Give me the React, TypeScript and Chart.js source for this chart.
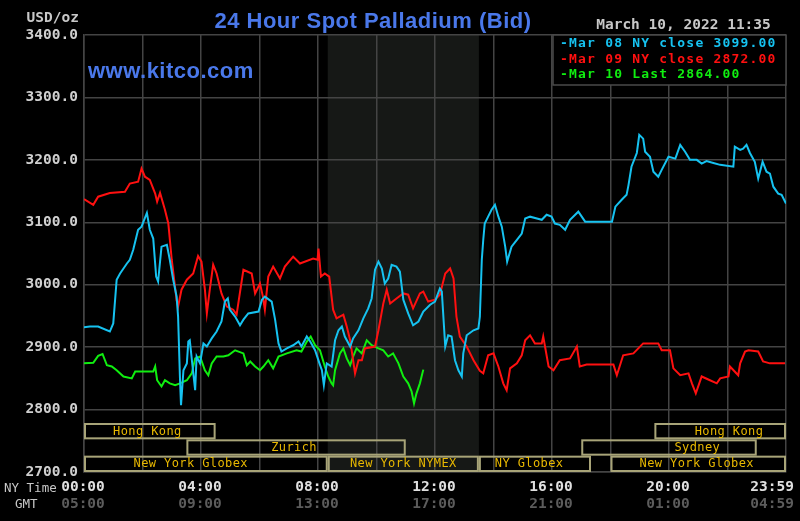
import React, { useEffect, useRef } from "react";
import { Chart, registerables } from "chart.js";

Chart.register(...registerables);

// ---------- DATA (times in minutes after 00:00 NY time) ----------
const cyanTimes = [0,12,29,53,60,67,74,88,94,101,111,118,129,135,142,148,152,159,170,176,183,190,193,197,199,204,211,214,217,222,228,231,238,245,252,262,272,282,289,295,299,310,320,327,337,358,365,371,385,392,399,405,416,429,440,446,457,464,474,483,488,492,498,508,515,522,529,535,546,552,563,573,583,590,597,604,611,617,624,631,641,648,655,665,675,686,696,710,720,730,734,741,747,754,761,768,775,778,785,799,809,812,816,819,822,829,836,843,850,857,864,868,877,888,898,905,915,929,939,949,959,966,976,987,997,1014,1028,1083,1090,1103,1113,1117,1123,1134,1139,1147,1151,1161,1168,1178,1185,1199,1213,1223,1233,1243,1257,1267,1277,1291,1305,1332,1335,1346,1352,1359,1366,1376,1383,1392,1400,1407,1414,1424,1431,1440];
const cyanValues = [2932,2933,2933,2925,2938,3008,3018,3034,3040,3056,3088,3093,3115,3088,3074,3013,3005,3061,3064,3040,3008,2981,2949,2847,2807,2863,2874,2909,2911,2874,2831,2885,2874,2906,2901,2914,2925,2941,2973,2978,2960,2949,2935,2944,2954,2957,2976,2981,2973,2944,2906,2893,2898,2903,2909,2901,2917,2909,2895,2874,2863,2839,2874,2869,2911,2927,2933,2917,2901,2914,2927,2946,2962,2978,3024,3037,3026,3002,3010,3032,3029,3021,2976,2954,2935,2941,2957,2968,2973,2994,2989,2901,2919,2917,2879,2863,2853,2890,2919,2927,2930,2949,3040,3072,3098,3109,3120,3128,3109,3093,3061,3037,3061,3072,3082,3106,3109,3106,3104,3112,3109,3098,3096,3088,3104,3117,3101,3101,3125,3136,3144,3160,3189,3211,3240,3234,3213,3205,3181,3173,3184,3205,3202,3224,3213,3200,3200,3194,3198,3195,3192,3189,3221,3216,3218,3224,3211,3197,3170,3197,3181,3178,3157,3146,3144,3130];

const redTimes = [0,19,29,53,84,94,111,118,125,135,146,150,156,166,173,180,190,193,200,211,224,234,241,248,252,258,265,272,282,293,306,313,327,344,351,361,367,371,378,388,402,412,429,443,470,479,481,486,494,503,511,518,532,539,546,556,563,570,576,597,604,614,621,628,641,655,665,675,689,696,706,720,730,741,751,758,764,771,785,799,812,819,829,840,850,860,867,874,888,898,905,915,925,939,942,953,963,976,997,1011,1017,1031,1086,1093,1106,1127,1147,1178,1185,1202,1209,1223,1240,1247,1255,1267,1284,1298,1305,1322,1325,1342,1346,1356,1363,1383,1393,1407,1438];
const redValues = [3137,3128,3141,3147,3149,3162,3165,3186,3173,3168,3146,3133,3147,3120,3098,3040,2975,2965,2992,3008,3018,3046,3037,2992,2954,2992,3032,3018,2986,2965,2960,2952,3024,3018,2986,3002,2981,2960,3013,3029,3010,3029,3045,3034,3042,3040,3058,3013,3018,3013,2960,2946,2952,2933,2911,2858,2879,2879,2898,2901,2927,2970,2992,2970,2978,2986,2984,2962,2986,2989,2973,2976,2984,3018,3026,3010,2949,2917,2901,2879,2862,2858,2887,2890,2869,2842,2831,2866,2874,2887,2911,2919,2906,2906,2917,2869,2863,2879,2882,2901,2869,2872,2872,2855,2887,2890,2906,2906,2895,2895,2866,2855,2858,2842,2826,2853,2847,2842,2850,2853,2869,2855,2874,2893,2895,2893,2877,2874,2874];

const greenTimes = [0,19,29,38,47,57,67,81,98,105,142,146,150,159,166,176,187,197,211,221,228,238,248,255,262,272,286,296,310,327,334,341,351,361,368,378,388,399,416,436,446,457,465,474,484,494,501,508,511,515,525,532,539,546,552,559,570,580,590,604,614,624,634,645,655,665,672,677,682,689,696];
const greenValues = [2874,2875,2886,2889,2871,2869,2863,2853,2850,2861,2861,2869,2847,2837,2847,2842,2839,2842,2847,2858,2882,2885,2863,2855,2874,2885,2885,2887,2895,2890,2871,2877,2869,2863,2869,2879,2866,2885,2890,2895,2893,2909,2917,2903,2895,2869,2853,2842,2839,2863,2890,2898,2882,2871,2885,2898,2890,2911,2903,2898,2895,2885,2890,2874,2853,2842,2829,2810,2826,2842,2864];

const legendLabels = ["-Mar 08 NY close 3099.00", "-Mar 09 NY close 2872.00", "-Mar 10 Last 2864.00"];
const seriesColors = ["#16c2f0", "#ff1010", "#10ee10"];

const nyTickTimes = [0, 240, 480, 720, 960, 1200, 1439];
const nyTickLabels = ["00:00", "04:00", "08:00", "12:00", "16:00", "20:00", "23:59"];
const gmtTickLabels = ["05:00", "09:00", "13:00", "17:00", "21:00", "01:00", "04:59"];

const sessionNames = ["Hong Kong", "Hong Kong", "Zurich", "Sydney", "New York Globex", "New York NYMEX", "NY Globex", "New York Globex"];
const sessionRows = [0, 0, 1, 1, 2, 2, 2, 2];
const sessionStarts = [0, 1170, 210, 1020, 0, 500, 810, 1080];
const sessionEnds = [270, 1440, 660, 1380, 500, 810, 1040, 1440];
const sessionLabelAt = [130, 1323, 431, 1258, 219, 655, 913, 1257];

const nymexStart = 500;
const nymexEnd = 810;

const titleText = "24 Hour Spot Palladium (Bid)";
const siteText = "www.kitco.com";
const dateText = "March 10, 2022 11:35";
const unitText = "USD/oz";

const MONO = "'DejaVu Sans Mono', 'Liberation Mono', monospace";
const SANS = "'Liberation Sans', Arial, sans-serif";

export default function App() {
  const ref = useRef<HTMLCanvasElement | null>(null);

  useEffect(() => {
    const canvas = ref.current;
    if (!canvas) return;

    const bgPlugin = {
      id: "bg",
      beforeDraw(chart: any) {
        const { ctx, chartArea, scales } = chart;
        ctx.save();
        ctx.fillStyle = "#000";
        ctx.fillRect(0, 0, chart.width, chart.height);
        const x0 = scales.x.getPixelForValue(nymexStart);
        const x1 = scales.x.getPixelForValue(nymexEnd);
        ctx.fillStyle = "#161816";
        ctx.fillRect(x0, chartArea.top, x1 - x0, chartArea.bottom - chartArea.top);
        ctx.restore();
      },
    };

    const overlayPlugin = {
      id: "overlay",
      afterDraw(chart: any) {
        const { ctx, chartArea, scales } = chart;
        const xs = scales.x;
        ctx.save();

        // Session boxes
        const rowH = (chartArea.bottom - 423) / 3;
        for (let i = 0; i < sessionNames.length; i++) {
          const top = chartArea.bottom - (3 - sessionRows[i]) * rowH;
          const a = xs.getPixelForValue(sessionStarts[i]);
          const b = xs.getPixelForValue(sessionEnds[i]);
          ctx.strokeStyle = "#a8a478";
          ctx.lineWidth = 2;
          ctx.strokeRect(a + 1, top + 1, b - a - 2, rowH - 2);
          ctx.fillStyle = "#e8b800";
          ctx.font = `12px ${MONO}`;
          (ctx as any).letterSpacing = "0.4px";
          ctx.textAlign = "center";
          ctx.textBaseline = "middle";
          ctx.fillText(sessionNames[i], xs.getPixelForValue(sessionLabelAt[i]), top + rowH / 2 + 0.5);
        }

        // Legend box
        const lx = 553, ly = chartArea.top, lw = chartArea.right - 553, lh = 50;
        ctx.fillStyle = "#000";
        ctx.fillRect(lx, ly, lw, lh);
        ctx.strokeStyle = "#4a4a4a";
        ctx.lineWidth = 1.5;
        ctx.strokeRect(lx, ly, lw, lh);
        ctx.font = `bold 13px ${MONO}`;
        (ctx as any).letterSpacing = "1.2px";
        ctx.textAlign = "left";
        ctx.textBaseline = "middle";
        for (let i = 0; i < legendLabels.length; i++) {
          ctx.fillStyle = seriesColors[i];
          ctx.fillText(legendLabels[i], 560, 44 + i * 15.5);
        }

        // Title & site
        (ctx as any).letterSpacing = "0.5px";
        ctx.font = `bold 22px ${SANS}`;
        ctx.fillStyle = "#4a78ea";
        ctx.textAlign = "center";
        ctx.textBaseline = "alphabetic";
        ctx.fillText(titleText, 373, 27.5);
        ctx.textAlign = "left";
        ctx.fillText(siteText, 88, 77.5);

        // Date, unit
        (ctx as any).letterSpacing = "0px";
        ctx.font = `bold 14.5px ${MONO}`;
        ctx.fillStyle = "#c8c8c8";
        ctx.textBaseline = "middle";
        ctx.textAlign = "center";
        ctx.fillText(dateText, 683.5, 25.5);
        ctx.textAlign = "right";
        ctx.fillText(unitText, 79, 18);

        // X labels
        ctx.textAlign = "center";
        for (let i = 0; i < nyTickTimes.length; i++) {
          let x = xs.getPixelForValue(nyTickTimes[i]) - 1;
          const w = ctx.measureText(nyTickLabels[i]).width;
          x = Math.min(x, chart.width - 6 - w / 2);
          ctx.fillStyle = "#e0e0e0";
          ctx.fillText(nyTickLabels[i], x, 487.5);
          ctx.fillStyle = "#5c5c5c";
          ctx.fillText(gmtTickLabels[i], x, 504.5);
        }
        ctx.font = `12.5px ${MONO}`;
        ctx.textAlign = "left";
        ctx.fillStyle = "#c8c8c8";
        ctx.fillText("NY Time", 4, 489);
        ctx.fillText("GMT", 15, 504.5);

        ctx.restore();
      },
    };

    const mk = (t: number[], v: number[]) => t.map((x, i) => ({ x, y: v[i] }));

    const chart = new Chart(canvas, {
      type: "line",
      data: {
        datasets: [
          { label: legendLabels[0], data: mk(cyanTimes, cyanValues), borderColor: seriesColors[0], borderWidth: 2, pointRadius: 0, tension: 0 },
          { label: legendLabels[1], data: mk(redTimes, redValues), borderColor: seriesColors[1], borderWidth: 2, pointRadius: 0, tension: 0 },
          { label: legendLabels[2], data: mk(greenTimes, greenValues), borderColor: seriesColors[2], borderWidth: 2, pointRadius: 0, tension: 0 },
        ],
      },
      options: {
        responsive: false,
        animation: false,
        devicePixelRatio: 1,
        layout: { padding: { left: 0, top: 35, right: 14, bottom: 49 } },
        plugins: { legend: { display: false }, tooltip: { enabled: false } },
        scales: {
          x: {
            type: "linear",
            min: 0,
            max: 1440,
            ticks: { display: false, stepSize: 120 },
            grid: { color: "#444444", lineWidth: 1.5, drawTicks: false },
            border: { display: true, color: "#444444", width: 1.5 },
          },
          y: {
            type: "linear",
            min: 2700,
            max: 3400,
            afterFit: (s: any) => { s.width = 84; },
            ticks: {
              stepSize: 100,
              padding: 6,
              color: "#d0d0d0",
              font: { family: MONO, size: 14.5, weight: "bold" },
              callback: (v: any) => Number(v).toFixed(1),
            },
            grid: { color: "#444444", lineWidth: 1.5, drawTicks: false },
            border: { display: true, color: "#444444", width: 1.5 },
          },
        },
      } as any,
      plugins: [bgPlugin, overlayPlugin],
    });

    return () => chart.destroy();
  }, []);

  return (
    <div style={{ position: "absolute", left: 0, top: 0, width: 800, height: 521, background: "#000" }}>
      <canvas ref={ref} width={800} height={521} style={{ display: "block", width: 800, height: 521 }} />
    </div>
  );
}
